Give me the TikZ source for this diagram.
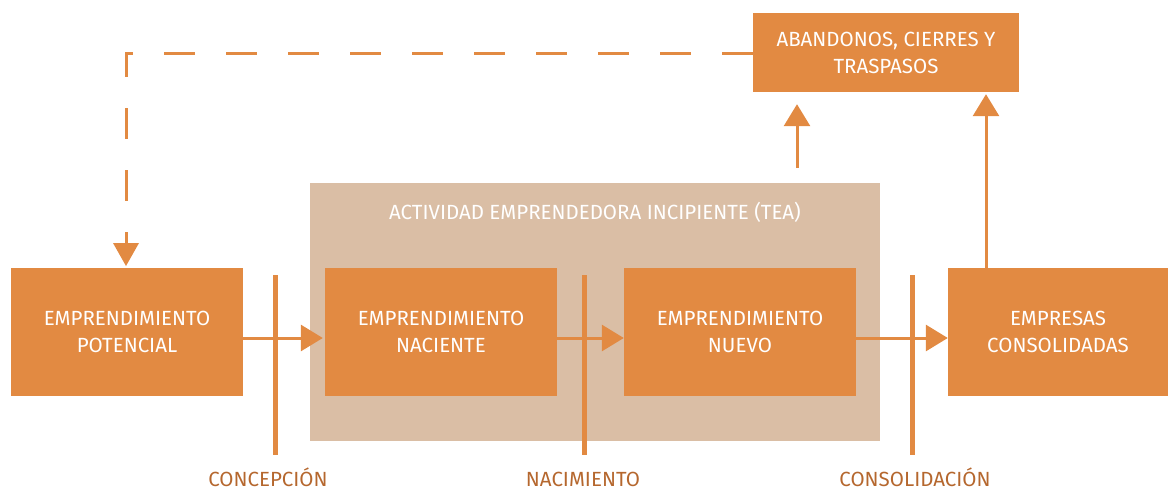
\documentclass[tikz,border=0pt]{standalone}
\usepackage{fontspec}
\setmainfont{Fira Sans}
\usetikzlibrary{arrows.meta,positioning}
\definecolor{org}{HTML}{E28A42}
\definecolor{beige}{HTML}{DABEA5}
\definecolor{lbl}{HTML}{B5672E}
\tikzset{
  box/.style={fill=org, text=white, minimum height=128pt, inner sep=0pt, align=center, font=\fontsize{20.5}{27}\selectfont},
  arr/.style={draw=org, line width=3pt, -{Triangle[length=22pt,width=26pt]}},
  bar/.style={draw=org, line width=5pt},
  lab/.style={text=lbl, font=\fontsize{20.5}{24}\selectfont, inner sep=0pt},
  dsh/.style={draw=org, line width=3pt, dash pattern=on 31pt off 31pt}
}
\begin{document}
\begin{tikzpicture}[x=1pt,y=-1pt]
\useasboundingbox (0,0) rectangle (1168,490);
\node[fill=beige, minimum width=570pt, minimum height=258pt, inner sep=0pt] (TEA) at (595,312) {};
\node[text=white, font=\fontsize{20.5}{24}\selectfont, inner sep=0pt] (TEAl) at (595,212) {ACTIVIDAD EMPRENDEDORA INCIPIENTE (TEA)};
\node[box, minimum width=232pt] (EP) at (127,332) {EMPRENDIMIENTO\\POTENCIAL};
\node[box, minimum width=232pt] (NAC) at (441,332) {EMPRENDIMIENTO\\NACIENTE};
\node[box, minimum width=232pt] (NUE) at (740,332) {EMPRENDIMIENTO\\NUEVO};
\node[box, minimum width=220pt] (CON) at (1058,332) {EMPRESAS\\CONSOLIDADAS};
\node[box, minimum width=266pt, minimum height=79pt] (AB) at (886,52.5) {ABANDONOS, CIERRES Y\\TRASPASOS};
% bars
\coordinate (b1t) at (275,275); \coordinate (b1b) at (275,455);
\coordinate (b2t) at (584,275); \coordinate (b2b) at (584,455);
\coordinate (b3t) at (912,275); \coordinate (b3b) at (912,455);
\draw[bar] (b1t) -- (b1b);
\draw[bar] (b2t) -- (b2b);
\draw[bar] (b3t) -- (b3b);
\node[lab] (L1) at (268,477) {CONCEPCIÓN};
\node[lab] (L2) at (583,479) {NACIMIENTO};
\node[lab] (L3) at (915,477) {CONSOLIDACIÓN};
% horizontal arrows
\draw[arr] ([yshift=-6pt]EP.east) -- ([yshift=-6pt,xshift=-2pt]NAC.west);
\draw[arr] ([yshift=-6pt]NAC.east) -- ([yshift=-6pt]NUE.west);
\draw[arr] ([yshift=-6pt]NUE.east) -- ([yshift=-6pt]CON.west);
% up arrows
\coordinate (u1) at (797,168);
\draw[arr, shorten >=12pt] (u1) -- (u1 |- AB.south);
\coordinate (u2) at (986,268);
\draw[arr, shorten >=2pt] (u2) -- (u2 |- AB.south);
% dashed feedback
\coordinate (dc) at (126,53);
\draw[dsh] (AB.west |- dc) -- (dc) -- (dc |- EP.north) ;
\fill[org] (113,243) -- (139,243) -- (126,266) -- cycle;
\end{tikzpicture}
\end{document}
